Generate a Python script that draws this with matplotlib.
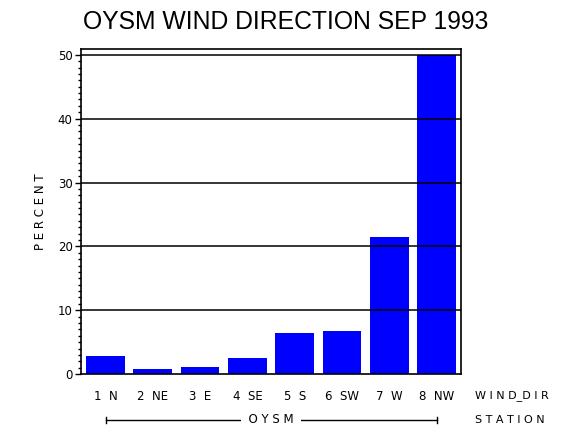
import matplotlib
matplotlib.use('Agg')
import matplotlib.pyplot as plt
import matplotlib.transforms as mtransforms
from matplotlib.ticker import MultipleLocator

# Data
positions = [1, 2, 3, 4, 5, 6, 7, 8]
directions = ['1  N', '2  NE', '3  E', '4  SE', '5  S', '6  SW', '7  W', '8  NW']
percent = [2.8, 0.8, 1.1, 2.5, 6.4, 6.7, 21.4, 50.0]
station = 'OYSM'

fig = plt.figure(figsize=(5.7, 4.3), dpi=100, facecolor='white')
ax = fig.add_axes([0.142, 0.130, 0.667, 0.756])

ax.bar(positions, percent, width=0.82, color='#0000ff', zorder=1)

# Horizontal grid lines on top of the bars
ax.set_ylim(0, 50.9)
ax.set_xlim(0.48, 8.52)
ax.yaxis.set_major_locator(MultipleLocator(10))
ax.yaxis.set_minor_locator(MultipleLocator(1))
for v in range(10, 51, 10):
    ax.axhline(v, color='black', lw=1.1, zorder=3)

ax.tick_params(axis='y', which='major', direction='out', length=4, width=1,
               labelsize=8.5, pad=2)
ax.tick_params(axis='y', which='minor', direction='out', length=2, width=1)
ax.tick_params(axis='x', which='both', length=0, labelbottom=False)
for s in ax.spines.values():
    s.set_linewidth(1.2)

ax.set_ylabel('P E R C E N T', fontsize=8.5, labelpad=8)

# Title
fig.text(0.501, 0.949, 'OYSM WIND DIRECTION SEP 1993', ha='center', va='center',
         fontsize=17.8, family='Liberation Sans')

# Category labels under the bars
trans = mtransforms.blended_transform_factory(ax.transData, fig.transFigure)
for x, lab in zip(positions, directions):
    ax.text(x, 0.079, lab, transform=trans, ha='center', va='center',
            fontsize=8.5, clip_on=False)
fig.text(0.833, 0.079, 'W I N D_D I R', ha='left', va='center', fontsize=8)

# Station bracket
yb = 0.0233
ax.plot([positions[0], positions[-1]], [yb, yb], transform=trans, color='black',
        lw=1, clip_on=False)
for x in [positions[0], positions[-1]]:
    ax.plot([x, x], [yb - 0.008, yb + 0.008], transform=trans, color='black',
            lw=1, clip_on=False)
ax.text(sum(positions) / len(positions), yb, '  ' + ' '.join(station) + '  ',
        transform=trans, ha='center', va='center', fontsize=8.5,
        bbox=dict(facecolor='white', edgecolor='none', pad=0), clip_on=False)
fig.text(0.833, yb, 'S T A T I O N', ha='left', va='center', fontsize=8)

fig.savefig('out.png', dpi=100, facecolor='white')
